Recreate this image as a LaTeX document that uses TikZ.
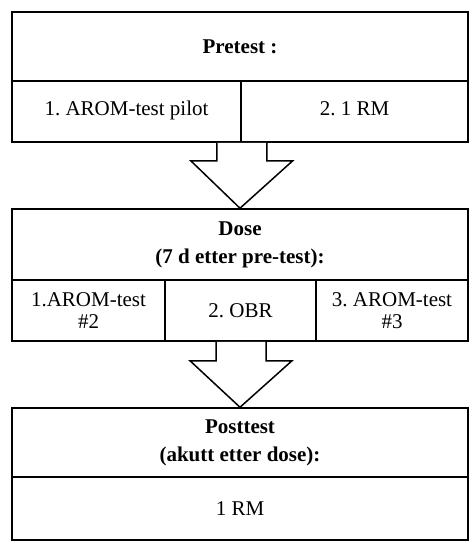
\documentclass[tikz,border=0pt]{standalone}
\usepackage{fontspec}
\setmainfont{Liberation Serif}
\usetikzlibrary{calc}
\frenchspacing
\tikzset{
  cell/.style={draw, line width=1.5pt, inner sep=0pt, align=center, font=\fontsize{21}{22}\selectfont},
  head/.style={cell, font=\fontsize{21}{28}\selectfont\bfseries},
  blockarrow/.style={draw, line width=1.5pt, fill=white, line join=miter}
}
\begin{document}
\begin{tikzpicture}[x=1pt, y=-1pt]
\useasboundingbox (0,0) rectangle (469,541);
% Box 1
\node[head, minimum width=456pt, minimum height=69pt] (h1) at (240,46.5) {Pretest :};
\node[cell, minimum width=229pt, minimum height=61pt] (c11) at (126.5,111.5) {\strut 1. AROM-test pilot};
\node[cell, minimum width=227pt, minimum height=61pt] (c12) at (354.5,111.5) {\strut 2. 1 RM};
% Box 2
\node[head, minimum width=456pt, minimum height=71pt] (h2) at (240,244.5) {Dose\\(7 d etter pre-test):};
\node[cell, minimum width=153pt, minimum height=61pt] (c21) at (88.5,310.5) {1.AROM-test\\\#2};
\node[cell, minimum width=151pt, minimum height=61pt] (c22) at (240.5,310.5) {2. OBR};
\node[cell, minimum width=152pt, minimum height=61pt] (c23) at (392,310.5) {3. AROM-test\\\#3};
% Box 3
\node[head, minimum width=456pt, minimum height=69pt] (h3) at (240,442.5) {Posttest\\(akutt etter dose):};
\node[cell, minimum width=456pt, minimum height=63pt] (c31) at (240,508.5) {1 RM};
\draw[line width=1.5pt] ($(c31.south west)+(0,1)$) -- ($(c31.south east)+(0,1)$);
% Block arrows
\coordinate (a1s) at ($(c11.south east)$);
\coordinate (a1e) at ($(h2.north)$);
\draw[blockarrow] ($(a1s)+(-25,0)$) -- ($(a1s)+(-25,18)$) -- ($(a1s)+(-51,18)$) -- (a1e)
  -- ($(a1s)+(51,18)$) -- ($(a1s)+(25,18)$) -- ($(a1s)+(25,0)$);
\coordinate (a2s) at ($(c22.south)$);
\coordinate (a2e) at ($(h3.north)$);
\draw[blockarrow] ($(a2s)+(-24.5,0)$) -- ($(a2s)+(-24.5,19)$) -- ($(a2s)+(-50.5,19)$) -- (a2e)
  -- ($(a2s)+(51.5,19)$) -- ($(a2s)+(25.5,19)$) -- ($(a2s)+(25.5,0)$);
\end{tikzpicture}
\end{document}
